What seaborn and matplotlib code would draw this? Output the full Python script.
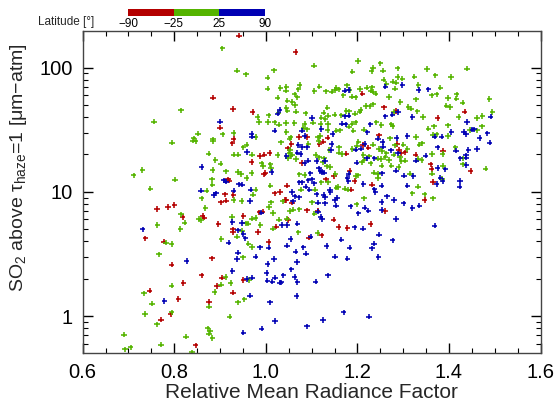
import numpy as np
import pandas as pd
import matplotlib
matplotlib.use("Agg")
import matplotlib.pyplot as plt
from matplotlib import ticker, cm
from matplotlib.colors import ListedColormap, BoundaryNorm
import seaborn as sns

# (relative mean radiance factor, SO2 column [um-atm]) per latitude band
south = np.array([
    (0.762, 7.28), (0.786, 7.56), (0.800, 7.84), (0.818, 6.28), (0.737, 4.23), (0.777, 3.97), (0.794, 2.59),
    (0.820, 1.85), (0.746, 1.60), (0.809, 1.37), (0.792, 1.03), (0.771, 0.936), (0.847, 0.582),
    (0.941, 181), (1.065, 134), (0.885, 57.4), (0.928, 46.5), (0.971, 44.0), (0.900, 32.9), (1.072, 27.7),
    (1.090, 27.7), (0.930, 26.7),
    (0.927, 24.6), (1.056, 24.2), (1.048, 22.4), (0.987, 19.5), (0.997, 19.9), (1.008, 20.6), (1.079, 17.1),
    (0.969, 17.4), (0.996, 13.8), (0.999, 14.2), (0.917, 12.6), (0.920, 12.3), (1.046, 11.2), (0.911, 9.56),
    (0.929, 9.44), (1.019, 9.74), (1.031, 10.0), (1.045, 8.61), (0.902, 8.24), (0.913, 8.50), (1.042, 8.61),
    (1.057, 8.19), (1.090, 7.11), (0.986, 6.85), (0.993, 6.93), (0.862, 6.40), (0.866, 6.20), (0.951, 6.40),
    (1.048, 5.94), (0.896, 5.51), (1.023, 5.25), (0.928, 5.00), (0.928, 4.76), (0.983, 4.76), (1.094, 4.28),
    (1.006, 3.95),
    (0.882, 2.92), (0.860, 2.12), (0.904, 2.04), (0.951, 1.95), (0.893, 1.74), (0.928, 1.54), (0.876, 1.30),
    (1.211, 61.8), (1.258, 48.0), (1.285, 44.8), (1.247, 28.5), (1.135, 27.3),
    (1.117, 24.3), (1.125, 25.4), (1.212, 23.9), (1.224, 22.7), (1.287, 24.3), (1.291, 21.9), (1.295, 20.4),
    (1.305, 20.8), (1.327, 19.9), (1.176, 20.3), (1.183, 14.7), (1.149, 13.4), (1.131, 12.6), (1.194, 12.2),
    (1.232, 11.4), (1.187, 10.4), (1.347, 8.61), (1.260, 7.02), (1.113, 7.06), (1.148, 5.98), (1.229, 5.51),
    (1.159, 5.22), (1.178, 5.12), (1.122, 4.47),
    (1.434, 44.3), (1.375, 39.4),
    (1.387, 21.5), (1.360, 16.6), (1.362, 15.3), (1.447, 14.7), (1.365, 12.0),
])

equator = np.array([
    (0.815, 45.4), (0.756, 36.8), (0.852, 29.4), (0.842, 27.0), (0.841, 25.9), (0.847, 25.7), (0.795, 24.9),
    (0.730, 15.0), (0.711, 13.6), (0.802, 12.5), (0.748, 10.6),
    (0.815, 6.60), (0.823, 5.65), (0.853, 6.05), (0.763, 5.41), (0.813, 5.03), (0.782, 3.90), (0.794, 3.81),
    (0.767, 3.14), (0.794, 1.76), (0.734, 1.52), (0.751, 1.26), (0.736, 1.04), (0.794, 1.07), (0.762, 0.858),
    (0.690, 0.709), (0.826, 0.683), (0.771, 0.589), (0.705, 0.560), (0.692, 0.540), (0.839, 0.51),
    (0.905, 143), (0.937, 94.6), (0.957, 88.4), (1.018, 95.2), (1.105, 104), (1.004, 83.1), (1.004, 67.8),
    (1.032, 68.6), (1.045, 70.3), (1.044, 65.3), (1.074, 72.6), (1.071, 67.0), (1.106, 64.9), (1.063, 61.0),
    (1.069, 57.7), (1.026, 57.4), (1.047, 54.3), (1.058, 52.9), (1.064, 50.1), (1.045, 47.7), (1.047, 45.1),
    (1.027, 43.4), (1.066, 44.3), (1.087, 42.9), (1.006, 41.4), (0.982, 40.1), (0.985, 36.5), (1.005, 36.5),
    (1.019, 36.3), (1.029, 34.8), (1.044, 35.9), (1.062, 35.9), (1.085, 35.2), (1.103, 36.1), (1.082, 32.9),
    (1.090, 31.9), (1.045, 30.3), (0.930, 29.8), (0.906, 29.1), (0.978, 27.7), (1.054, 27.5), (1.052, 26.8),
    (0.885, 26.5),
    (0.885, 25.5), (0.958, 24.0), (0.951, 22.8), (1.033, 25.1), (1.093, 24.3), (1.053, 21.7), (1.051, 20.4),
    (1.058, 19.9), (1.054, 19.5), (0.875, 20.3), (0.930, 19.9), (0.940, 19.9), (0.970, 19.9), (1.026, 19.8),
    (1.048, 18.6), (1.066, 18.4), (0.890, 18.0), (0.901, 16.9), (0.991, 17.0), (0.994, 16.1), (1.010, 16.6),
    (1.011, 15.6), (0.884, 15.0), (0.913, 14.6), (0.939, 14.4), (0.946, 13.9), (0.969, 14.2), (1.073, 13.8),
    (1.085, 13.7), (0.882, 12.6), (0.958, 12.9), (0.883, 11.4), (1.010, 11.2), (1.077, 10.4), (1.107, 10.4),
    (0.871, 10.2), (0.978, 10.4), (0.972, 9.50), (1.037, 8.40), (0.860, 8.88), (0.930, 8.61), (0.947, 8.45),
    (1.011, 8.24), (1.101, 8.24), (0.868, 7.42), (1.007, 7.56), (1.053, 7.02), (1.060, 7.19), (1.073, 7.24),
    (1.016, 6.76), (1.106, 6.68), (0.858, 5.94), (0.926, 6.28), (0.970, 6.09), (0.978, 6.17), (1.029, 5.98),
    (1.046, 6.09), (0.957, 5.58), (0.962, 5.55), (0.988, 5.41), (0.948, 4.84), (1.016, 5.06), (1.071, 4.73),
    (0.937, 4.36), (0.903, 4.18), (0.962, 3.83), (0.970, 3.60),
    (0.950, 2.97), (0.912, 2.06), (0.964, 1.95), (0.923, 1.84), (0.902, 1.79), (0.888, 1.56), (0.953, 1.36),
    (0.876, 1.19), (0.939, 1.29), (0.921, 0.989), (0.873, 0.797), (0.878, 0.759), (0.876, 0.722), (0.883, 0.666),
    (1.201, 113), (1.250, 108), (1.189, 92.9), (1.234, 100), (1.231, 94.1), (1.288, 98.8), (1.256, 94.6),
    (1.352, 97.6), (1.324, 84.7), (1.288, 84.2), (1.257, 80.1), (1.298, 81.6), (1.277, 77.2), (1.285, 75.8),
    (1.263, 73.9), (1.333, 72.6), (1.117, 70.4), (1.154, 68.6), (1.151, 66.1), (1.159, 67.0), (1.177, 72.1),
    (1.183, 66.1), (1.131, 64.5), (1.144, 64.1), (1.206, 67.4), (1.220, 69.1), (1.232, 69.5), (1.229, 65.3),
    (1.234, 64.1), (1.240, 61.8), (1.282, 67.8), (1.169, 59.9), (1.188, 58.4), (1.196, 57.7), (1.269, 58.1),
    (1.328, 55.6), (1.294, 52.9), (1.234, 50.7), (1.227, 48.9), (1.218, 49.2), (1.207, 45.6), (1.205, 44.3),
    (1.134, 47.7), (1.311, 48.3), (1.317, 46.8), (1.331, 44.5), (1.279, 44.0), (1.176, 44.8), (1.182, 44.5),
    (1.126, 43.4), (1.150, 41.9), (1.136, 41.1), (1.195, 42.7), (1.165, 41.3), (1.121, 39.6), (1.130, 38.6),
    (1.343, 40.1), (1.241, 36.3), (1.189, 35.4), (1.196, 36.3), (1.252, 34.6), (1.274, 35.0), (1.277, 33.7),
    (1.120, 35.2), (1.136, 35.2), (1.182, 33.5), (1.135, 31.5), (1.154, 31.1), (1.162, 31.3), (1.214, 31.7),
    (1.191, 31.1), (1.355, 32.3), (1.119, 28.2), (1.114, 27.5), (1.328, 27.7), (1.271, 27.0),
    (1.115, 25.7), (1.139, 21.7), (1.160, 22.8), (1.189, 22.2), (1.202, 25.4), (1.199, 23.6), (1.234, 24.0),
    (1.247, 22.2), (1.254, 21.3), (1.263, 20.4), (1.282, 23.7), (1.300, 24.0), (1.309, 22.2), (1.335, 24.0),
    (1.341, 24.6), (1.333, 18.4), (1.340, 18.1), (1.109, 19.8), (1.117, 19.0), (1.127, 18.6), (1.125, 17.3),
    (1.167, 20.2), (1.159, 20.7), (1.213, 19.8), (1.225, 19.3), (1.244, 18.5), (1.252, 18.4), (1.261, 18.9),
    (1.269, 18.1), (1.279, 19.9), (1.293, 19.0), (1.296, 17.7), (1.305, 17.8), (1.209, 17.3), (1.215, 18.1),
    (1.229, 17.0), (1.133, 16.0), (1.140, 15.8), (1.253, 16.2), (1.274, 16.2), (1.290, 15.8), (1.236, 14.3),
    (1.245, 13.9), (1.315, 14.0), (1.152, 13.9), (1.196, 13.4), (1.202, 13.6), (1.245, 12.9), (1.121, 11.9),
    (1.136, 11.9), (1.154, 10.8), (1.158, 10.9), (1.172, 10.6), (1.179, 10.4), (1.332, 11.0), (1.214, 8.88),
    (1.320, 9.74), (1.347, 9.56), (1.198, 7.94), (1.113, 4.67),
    (1.439, 98.2), (1.370, 86.8), (1.404, 84.2), (1.381, 69.1), (1.362, 59.9), (1.373, 61.0), (1.417, 61.0),
    (1.398, 57.0), (1.416, 56.3), (1.488, 56.0), (1.430, 52.3), (1.394, 49.5), (1.402, 48.3), (1.495, 44.0),
    (1.421, 40.1), (1.461, 39.4), (1.473, 40.8), (1.367, 33.7), (1.398, 34.4), (1.472, 33.7), (1.445, 31.5),
    (1.461, 31.3), (1.364, 28.7), (1.373, 29.1), (1.398, 28.2),
    (1.414, 22.8), (1.363, 20.2), (1.386, 20.1), (1.431, 18.6), (1.430, 16.6), (1.387, 16.1), (1.480, 15.4),
    (1.363, 14.0), (1.385, 12.7), (1.365, 8.88),
])

north = np.array([
    (0.731, 5.00), (0.827, 2.78), (0.778, 1.32),
    (1.030, 45.6), (1.026, 42.7), (1.101, 39.4), (0.900, 36.8), (1.019, 31.1), (1.079, 31.1), (0.969, 29.3),
    (0.970, 27.8), (1.085, 28.2),
    (1.071, 23.9), (1.079, 23.0), (1.090, 22.8), (1.069, 20.7), (1.076, 20.2), (0.959, 21.0), (1.045, 19.5),
    (1.093, 17.8), (1.085, 17.1), (1.013, 14.4), (0.860, 15.8), (1.097, 14.1), (0.909, 12.4), (0.913, 12.1),
    (0.941, 11.5), (0.948, 11.4), (1.073, 11.9), (1.093, 12.4), (1.080, 11.9), (1.101, 12.6), (1.087, 11.0),
    (1.105, 11.7), (1.095, 10.4), (0.858, 10.2), (0.891, 9.74), (0.886, 9.44), (0.930, 10.2), (0.967, 10.4),
    (1.057, 10.0), (1.063, 9.21), (1.072, 9.04), (0.965, 8.45), (1.059, 8.40), (0.990, 6.81), (0.927, 5.72),
    (0.948, 5.62), (1.035, 5.41), (1.047, 5.41), (1.069, 5.55), (0.939, 4.90), (0.951, 4.58), (1.098, 4.36),
    (0.955, 4.23), (1.054, 4.18), (0.919, 3.90), (0.987, 3.58), (1.006, 3.56), (1.046, 3.69), (1.082, 3.58),
    (0.939, 3.24), (0.937, 2.88), (0.978, 3.01), (1.018, 2.88), (1.065, 3.30), (1.088, 3.18), (1.004, 2.63),
    (1.068, 2.73), (0.927, 2.31), (1.056, 2.38), (1.002, 2.22), (1.020, 2.04), (1.038, 2.13), (1.063, 2.06),
    (0.958, 1.99), (0.970, 2.04), (1.003, 1.93), (1.014, 1.89), (1.031, 1.86), (1.034, 1.87), (1.069, 1.88),
    (0.965, 1.46), (1.067, 1.45), (1.009, 1.29), (1.020, 0.913), (1.090, 0.827), (0.991, 0.792), (0.951, 0.736),
    (1.298, 72.6), (1.261, 70.4), (1.172, 65.3), (1.181, 66.1), (1.334, 66.1), (1.355, 67.0), (1.289, 44.0),
    (1.276, 41.9), (1.261, 40.6), (1.320, 40.1), (1.181, 41.1), (1.173, 40.6), (1.174, 35.0), (1.166, 35.4),
    (1.228, 35.0), (1.121, 32.1), (1.222, 30.2), (1.146, 29.3), (1.286, 27.2), (1.309, 28.2), (1.245, 26.8),
    (1.144, 24.3), (1.142, 21.7), (1.196, 21.9), (1.208, 22.3), (1.216, 24.3), (1.255, 25.2), (1.256, 23.1),
    (1.273, 21.6), (1.289, 20.4), (1.349, 19.6), (1.328, 17.8), (1.221, 18.6), (1.237, 18.6), (1.111, 17.7),
    (1.129, 17.7), (1.198, 17.2), (1.116, 15.5), (1.119, 14.7), (1.123, 14.4), (1.127, 14.3), (1.181, 13.9),
    (1.254, 14.1), (1.284, 14.8), (1.302, 13.5), (1.322, 13.4), (1.178, 13.0), (1.180, 12.2), (1.213, 11.6),
    (1.253, 11.2), (1.239, 10.0), (1.237, 10.5), (1.140, 10.4), (1.141, 9.92), (1.309, 11.2), (1.111, 9.56),
    (1.126, 9.44), (1.129, 9.04), (1.156, 8.99), (1.151, 8.61), (1.265, 9.21), (1.280, 8.61), (1.114, 8.19),
    (1.129, 8.09), (1.153, 7.75), (1.185, 7.65), (1.253, 8.29), (1.301, 8.09), (1.335, 7.75), (1.320, 7.42),
    (1.216, 7.47), (1.224, 7.06), (1.253, 7.15), (1.114, 6.93), (1.120, 6.32), (1.123, 6.05), (1.202, 6.72),
    (1.284, 6.05), (1.194, 5.19), (1.212, 5.06), (1.247, 4.53), (1.165, 4.12), (1.277, 4.07), (1.133, 3.67),
    (1.183, 3.56), (1.236, 3.83), (1.232, 3.51),
    (1.151, 3.01), (1.178, 2.90), (1.246, 2.99), (1.136, 2.13), (1.109, 1.89), (1.170, 1.07), (1.225, 0.99),
    (1.125, 0.93),
    (1.491, 40.3), (1.439, 36.5), (1.405, 30.3), (1.451, 31.7), (1.455, 31.9), (1.432, 30.3), (1.437, 29.3),
    (1.484, 29.6), (1.369, 27.8), (1.384, 27.8), (1.467, 27.2),
    (1.375, 22.8), (1.415, 21.5), (1.442, 21.7), (1.461, 22.2), (1.489, 24.9), (1.425, 18.6), (1.437, 19.7),
    (1.438, 18.8), (1.438, 16.4), (1.375, 15.6), (1.392, 15.2), (1.381, 13.0), (1.386, 12.2), (1.373, 11.6),
    (1.424, 12.2), (1.423, 11.0), (1.369, 5.35),
])

lat_edges = [-90, -25, 25, 90]
band_names = ["south", "equator", "north"]
band_colors = ["#b40000", "#55b400", "#0000b4"]

frames = []
for name, pts in zip(band_names, [south, equator, north]):
    frames.append(pd.DataFrame({"rmrf": pts[:, 0], "so2": pts[:, 1], "band": name}))
df = pd.concat(frames, ignore_index=True)

sns.set_theme(style="ticks")
plt.rcParams.update({
    "font.family": ["Liberation Sans", "DejaVu Sans"],
    "mathtext.fontset": "custom",
    "mathtext.rm": "Liberation Sans",
    "mathtext.it": "Liberation Sans:italic",
    "xtick.direction": "in", "ytick.direction": "in",
    "xtick.top": True, "xtick.bottom": True,
    "ytick.left": True, "ytick.right": True,
    "xtick.color": "black", "ytick.color": "black",
    "xtick.labelcolor": "black", "ytick.labelcolor": "black",
    "axes.edgecolor": "#444444",
})

fig = plt.figure(figsize=(5.55, 4.07), dpi=100)
ax = fig.add_axes([0.149, 0.133, 0.825, 0.792])

sns.scatterplot(data=df, x="rmrf", y="so2", hue="band", hue_order=["equator", "south", "north"],
                palette=dict(zip(band_names, band_colors)), marker="+", s=15, linewidth=1.15,
                legend=False, ax=ax, zorder=2)

ax.set_yscale("log")
ax.set_xlim(0.6, 1.6)
ax.set_ylim(0.505, 199)
ax.xaxis.set_major_locator(ticker.MultipleLocator(0.2))
ax.xaxis.set_minor_locator(ticker.MultipleLocator(0.05))
ax.xaxis.set_major_formatter(ticker.FormatStrFormatter("%.1f"))
ax.yaxis.set_major_locator(ticker.LogLocator(base=10))
ax.yaxis.set_minor_locator(ticker.LogLocator(base=10, subs=np.arange(2, 10)))
ax.yaxis.set_major_formatter(ticker.FuncFormatter(lambda v, p: f"{v:g}"))
ax.yaxis.set_minor_formatter(ticker.NullFormatter())
ax.tick_params(which="both", direction="in", bottom=True, left=True, top=True, right=True,
               labelsize=14.5)
ax.tick_params(which="major", length=7, width=1.0, pad=7)
ax.tick_params(which="minor", length=3.5, width=0.8)
for s in ax.spines.values():
    s.set_linewidth(1.0)
    s.set_zorder(3)

ax.set_xlabel("Relative Mean Radiance Factor", fontsize=15, labelpad=1)
ax.set_ylabel(r"SO$_2$ above τ$_{\rm haze}$=1 [μm−atm]", fontsize=14)
ax.yaxis.set_label_coords(-0.118, 0.574)

# latitude colour key
cax = fig.add_axes([0.2306, 0.9614, 0.2468, 0.0157])
cmap = ListedColormap(band_colors)
norm = BoundaryNorm(lat_edges, cmap.N)
cb = fig.colorbar(cm.ScalarMappable(norm=norm, cmap=cmap), cax=cax, orientation="horizontal",
                  ticks=lat_edges, spacing="uniform")
cb.outline.set_visible(False)
cax.tick_params(length=0, labelsize=8.5, pad=2, top=False, bottom=True)
fig.text(0.169, 0.947, "Latitude [°]", ha="right", va="center", fontsize=8.5)

fig.savefig("out.png", dpi=100)
